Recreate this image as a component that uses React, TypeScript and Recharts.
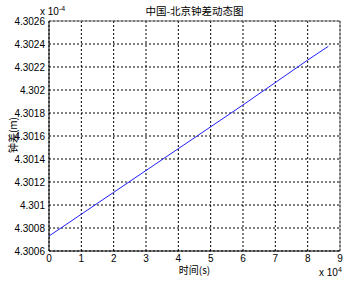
import { CartesianGrid, Line, LineChart, ReferenceLine, XAxis, YAxis } from 'recharts';

// time (s) and clock offset (m)
const timeSec = [0, 20000, 40000, 60000, 80000, 86400];
const clockOffset = [4.30073e-4, 4.30111e-4, 4.30149e-4, 4.30187e-4, 4.30226e-4, 4.30238e-4];

const xTicks = [0, 10000, 20000, 30000, 40000, 50000, 60000, 70000, 80000, 90000];
const yTicks = [4.3006e-4, 4.3008e-4, 4.301e-4, 4.3012e-4, 4.3014e-4, 4.3016e-4, 4.3018e-4, 4.302e-4, 4.3022e-4, 4.3024e-4, 4.3026e-4];

const data = timeSec.map((t, i) => ({ t, v: clockOffset[i] }));

const font = '"Liberation Sans", Arial, sans-serif';
const cjk = '"Noto Sans CJK SC", "Liberation Sans", sans-serif';

const fmtY = (v: number) => String(parseFloat((v * 1e4).toFixed(4)));
const fmtX = (v: number) => String(Math.round(v / 1e4));

export default function App() {
  return (
    <div style={{ position: 'absolute', left: 0, top: 0, width: 355, height: 282, background: '#fff' }}>
      <LineChart width={355} height={282} data={data} margin={{ top: 21, right: 15, bottom: 0, left: 0 }}>
        <CartesianGrid stroke="#000" strokeDasharray="2 2" strokeWidth={1} />
        <XAxis
          type="number"
          dataKey="t"
          domain={[0, 90000]}
          ticks={xTicks}
          tickFormatter={fmtX}
          interval={0}
          height={31}
          tickSize={4}
          tickMargin={0}
          tickLine={false}
          axisLine={{ stroke: '#000' }}
          tick={{ fill: '#000', fontSize: 10, fontFamily: font }}
        />
        <YAxis
          type="number"
          domain={[yTicks[0], yTicks[yTicks.length - 1]]}
          ticks={yTicks}
          tickFormatter={fmtY}
          interval={0}
          width={49}
          tickSize={4}
          tickMargin={0}
          tickLine={false}
          axisLine={{ stroke: '#000' }}
          tick={{ fill: '#000', fontSize: 10, fontFamily: font }}
        />
        <ReferenceLine y={yTicks[yTicks.length - 1]} stroke="#777" />
        <ReferenceLine x={90000} stroke="#777" />
        <Line
          type="linear"
          dataKey="v"
          stroke="#2020ff"
          strokeWidth={1}
          dot={false}
          isAnimationActive={false}
        />
      </LineChart>
      <div style={{ position: 'absolute', left: 0, width: 389, top: 3, textAlign: 'center', fontFamily: cjk, fontSize: 10.5, color: '#000' }}>
        中国-北京钟差动态图
      </div>
      <div style={{ position: 'absolute', left: 40, top: 5, fontFamily: font, fontSize: 10, color: '#000' }}>
        x 10<sup style={{ fontSize: 7 }}>-4</sup>
      </div>
      <div style={{ position: 'absolute', left: 319, top: 266, fontFamily: font, fontSize: 10, color: '#000' }}>
        x 10<sup style={{ fontSize: 7 }}>4</sup>
      </div>
      <div style={{ position: 'absolute', left: 0, width: 389, top: 262, textAlign: 'center', fontFamily: cjk, fontSize: 10, color: '#000' }}>
        时间(s)
      </div>
      <div
        style={{
          position: 'absolute',
          left: 12,
          top: 135,
          transform: 'translate(-50%, -50%) rotate(-90deg)',
          whiteSpace: 'nowrap',
          fontFamily: cjk,
          fontSize: 10,
          color: '#000',
        }}
      >
        钟差(m)
      </div>
    </div>
  );
}
